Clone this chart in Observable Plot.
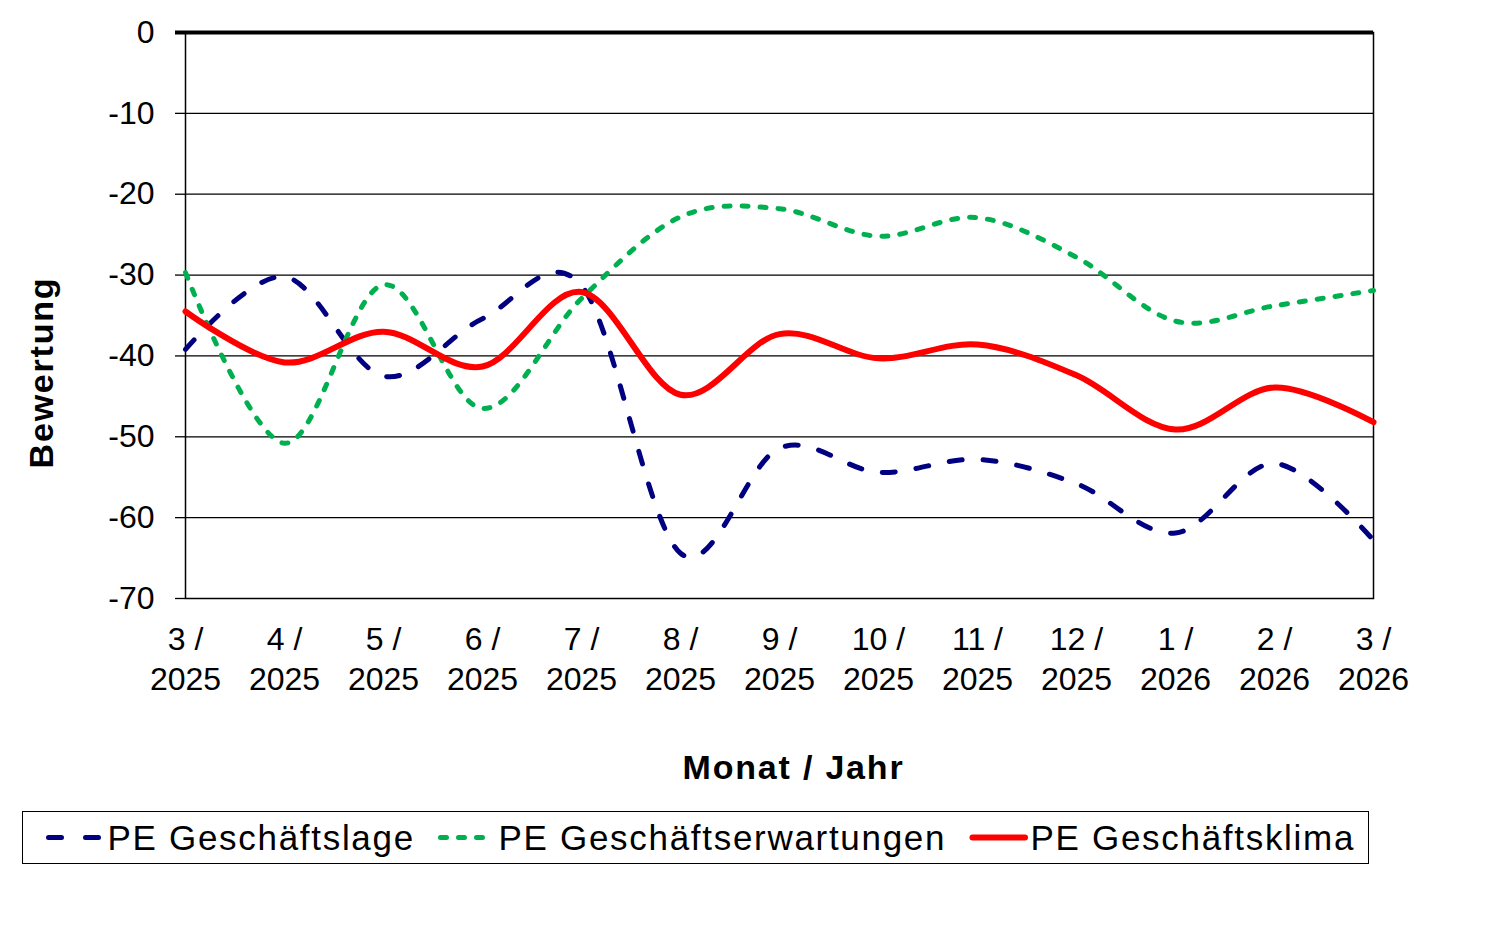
<!DOCTYPE html>
<html>
<head>
<meta charset="utf-8">
<script src="https://cdn.jsdelivr.net/npm/d3@7"></script>
<script src="https://cdn.jsdelivr.net/npm/@observablehq/plot@0.6"></script>
<style>
  html, body { margin: 0; padding: 0; background: #ffffff; }
  body { font-family: "Liberation Sans", Arial, sans-serif; color: #000; width: 1499px; }
  #chart svg { display: block; }
  #legend {
    position: relative;
    margin-left: 22px;
    margin-top: 11px;
    width: 1345px;
    height: 51px;
    border: 1.5px solid #000;
    box-sizing: content-box;
  }
  .item-sample { position: absolute; top: 0; height: 51px; }
  .item-text {
    position: absolute; top: 0; height: 51px; line-height: 51px;
    font-size: 35px; letter-spacing: 1.7px; white-space: nowrap;
  }
</style>
</head>
<body>
<div id="chart"></div>
<div id="legend"></div>
<script>
// ---- data ----
const monthLabels = ["3 /\n2025", "4 /\n2025", "5 /\n2025", "6 /\n2025", "7 /\n2025", "8 /\n2025",
                     "9 /\n2025", "10 /\n2025", "11 /\n2025", "12 /\n2025", "1 /\n2026", "2 /\n2026", "3 /\n2026"];
const yTicks = [0, -10, -20, -30, -40, -50, -60, -70];
const seriesNames = ["PE Geschäftslage", "PE Geschäftserwartungen", "PE Geschäftsklima"];
const geschaeftslage = [-39.2, -30.2, -42.5, -35.4, -31.3, -64.4, -51.4, -54.4, -52.8, -55.8, -61.9, -53.3, -62.8];
const geschaeftserwartungen = [-29.7, -50.8, -31.2, -46.5, -32.9, -22.8, -21.8, -25.2, -22.9, -27.8, -35.7, -33.8, -31.9];
const geschaeftsklima = [-34.5, -40.8, -37.0, -41.3, -32.1, -44.8, -37.3, -40.3, -38.6, -42.4, -49.1, -43.9, -48.2];

// ---- styles ----
const seriesStyles = [
  {stroke: "#000080", strokeWidth: 5, strokeDasharray: "13,21", strokeLinecap: "round"},
  {stroke: "#00B050", strokeWidth: 5, strokeDasharray: "6,12", strokeLinecap: "round"},
  {stroke: "#FF0000", strokeWidth: 6, strokeDasharray: null, strokeLinecap: "round"}
];
const seriesValues = [geschaeftslage, geschaeftserwartungen, geschaeftsklima];

const rows = seriesValues.map(vals => vals.map((v, i) => ({month: monthLabels[i], value: v})));

const fontFamily = '"Liberation Sans", Arial, sans-serif';

const chart = Plot.plot({
  width: 1499,
  height: 800,
  marginLeft: 185,
  marginRight: 126,
  marginTop: 32,
  marginBottom: 202,
  style: {fontFamily, fontSize: "32px", color: "#000", background: "#fff", overflow: "visible"},
  x: {type: "point", domain: monthLabels, padding: 0},
  y: {domain: [-70, 0]},
  marks: [
    Plot.ruleY(yTicks.filter(t => t < 0 && t > -70), {stroke: "#000", strokeWidth: 1.3}),
    Plot.frame({stroke: "#000", strokeWidth: 1.5}),
    Plot.axisY({ticks: yTicks, tickSize: 10, tickPadding: 21, tickFormat: d => String(d),
                fontSize: 32, label: null, strokeWidth: 1.3}),
    Plot.axisX({tickSize: 0, tickPadding: 23, fontSize: 32, lineHeight: 1.25, label: null}),
    ...rows.map((r, k) => Plot.line(r, {
      x: "month", y: "value", curve: "cardinal",
      stroke: seriesStyles[k].stroke,
      strokeWidth: seriesStyles[k].strokeWidth,
      strokeDasharray: seriesStyles[k].strokeDasharray,
      strokeLinecap: seriesStyles[k].strokeLinecap,
      strokeLinejoin: "round"
    })),
    Plot.ruleY([0], {stroke: "#000", strokeWidth: 4, insetLeft: -10}),
    Plot.text(["Monat / Jahr"], {frameAnchor: "bottom", dx: 14, dy: 170, fontSize: 34,
      fontWeight: "bold", textAnchor: "middle", lineAnchor: "middle"}),
    Plot.text(["Bewertung"], {frameAnchor: "left", dx: -143, dy: 57, rotate: -90, fontSize: 34,
      fontWeight: "bold", textAnchor: "middle", lineAnchor: "middle"})
  ]
});
document.getElementById("chart").appendChild(chart);
// letter spacing for the titles (text attribute)
chart.querySelectorAll("text").forEach(t => {
  if (t.textContent === "Monat / Jahr" || t.textContent === "Bewertung") t.setAttribute("letter-spacing", "1.8");
});

// ---- legend ----
const legend = document.getElementById("legend");
const sampleLefts = [21.5, 413.5, 945.5];
const textLefts = [84.5, 475.5, 1007.5];
seriesNames.forEach((name, k) => {
  const s = seriesStyles[k];
  const sample = document.createElementNS("http://www.w3.org/2000/svg", "svg");
  sample.setAttribute("class", "item-sample");
  sample.setAttribute("width", 60);
  sample.setAttribute("height", 51);
  sample.style.left = sampleLefts[k] + "px";
  const line = document.createElementNS("http://www.w3.org/2000/svg", "line");
  line.setAttribute("x1", 3.5);
  line.setAttribute("x2", 56);
  line.setAttribute("y1", 25.5);
  line.setAttribute("y2", 25.5);
  line.setAttribute("stroke", s.stroke);
  line.setAttribute("stroke-width", s.strokeWidth);
  line.setAttribute("stroke-linecap", s.strokeLinecap);
  if (s.strokeDasharray) line.setAttribute("stroke-dasharray", k === 0 ? "13,24" : s.strokeDasharray);
  sample.appendChild(line);
  legend.appendChild(sample);
  const txt = document.createElement("div");
  txt.className = "item-text";
  txt.style.left = textLefts[k] + "px";
  txt.textContent = name;
  legend.appendChild(txt);
});
</script>
</body>
</html>
